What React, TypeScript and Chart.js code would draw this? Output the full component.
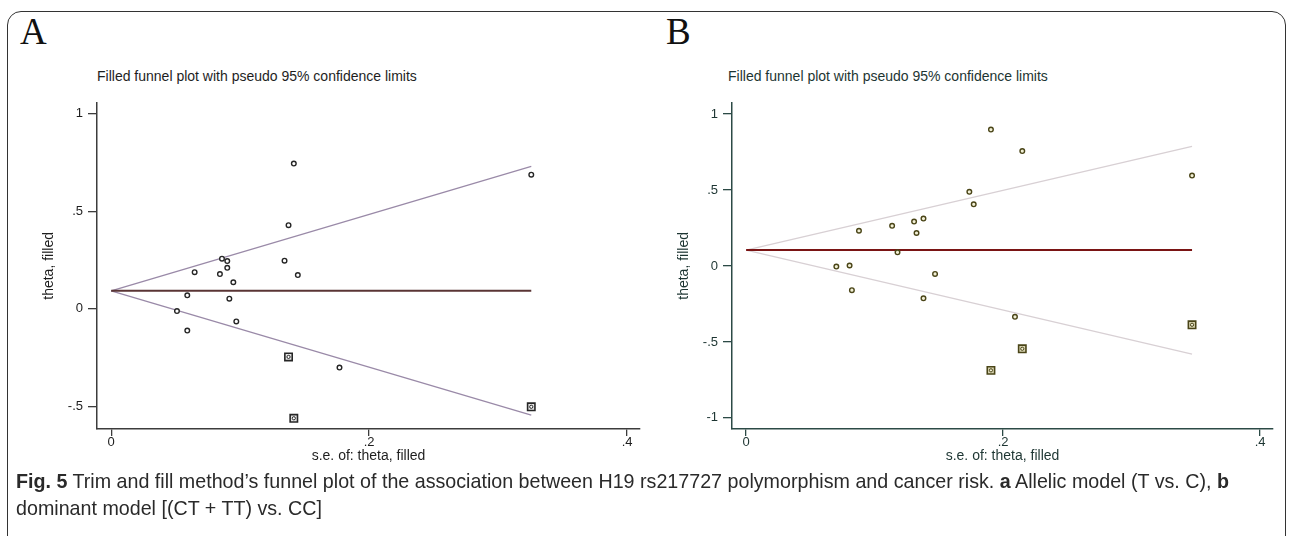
import React, { useEffect, useLayoutEffect, useRef } from 'react';
import { Chart, registerables } from 'chart.js';

Chart.register(...registerables);

// ---------- Panel A (allelic model) ----------
const seA = [0.1416, 0.1375, 0.0859, 0.090, 0.090, 0.0647, 0.0843, 0.1344, 0.1447, 0.0947, 0.059, 0.0916, 0.051, 0.059, 0.097, 0.177, 0.3257];
const thetaA = [0.745, 0.429, 0.257, 0.245, 0.210, 0.188, 0.178, 0.247, 0.173, 0.136, 0.069, 0.052, -0.012, -0.112, -0.065, -0.302, 0.688];
const filledSeA = [0.1375, 0.1416, 0.3257];
const filledThetaA = [-0.247, -0.562, -0.503];
const funnelSeA = [0, 0.3257];
const centerA = [0.092, 0.092];
const upperA = [0.092, 0.731];
const lowerA = [0.092, -0.546];

// ---------- Panel B (dominant model) ----------
const seB = [0.1905, 0.2149, 0.1737, 0.1771, 0.138, 0.1307, 0.1136, 0.0878, 0.1326, 0.1178, 0.0702, 0.0805, 0.147, 0.0823, 0.138, 0.2092, 0.347];
const thetaB = [0.898, 0.756, 0.488, 0.406, 0.312, 0.292, 0.264, 0.232, 0.217, 0.090, -0.004, 0.003, -0.052, -0.159, -0.213, -0.335, 0.595];
const filledSeB = [0.2149, 0.1905, 0.347];
const filledThetaB = [-0.545, -0.687, -0.387];
const funnelSeB = [0, 0.347];
const centerB = [0.105, 0.105];
const upperB = [0.105, 0.787];
const lowerB = [0.105, -0.58];

// ---------- Ticks ----------
const xTicks = [0, 0.2, 0.4];
const xTickLabels = ['0', '.2', '.4'];
const yTicksA = [-0.5, 0, 0.5, 1];
const yTickLabelsA = ['-.5', '0', '.5', '1'];
const yTicksB = [-1, -0.5, 0, 0.5, 1];
const yTickLabelsB = ['-1', '-.5', '0', '.5', '1'];

const TITLE = 'Filled funnel plot with pseudo 95% confidence limits';
const FONT = "'Liberation Sans', Arial, sans-serif";

const pts = (xs: number[], ys: number[]) => xs.map((x, i) => ({ x, y: ys[i] }));

function makeConfig(p: any) {
  const lbl = (ticks: number[], labels: string[]) => (v: any) => {
    const i = ticks.findIndex((t) => Math.abs(t - Number(v)) < 1e-9);
    return i >= 0 ? labels[i] : '';
  };
  return {
    type: 'scatter',
    data: {
      datasets: [
        {
          data: pts(p.filledSe, p.filledTheta),
          pointStyle: 'circle',
          pointRadius: 1.6,
          borderWidth: 1,
          borderColor: p.markerColor,
          backgroundColor: p.markerFill,
        },
        {
          data: pts(p.filledSe, p.filledTheta),
          pointStyle: 'rect',
          pointRadius: 5.2,
          borderWidth: 1.6,
          borderColor: p.markerColor,
          backgroundColor: p.squareFill,
        },
        {
          data: pts(p.se, p.theta),
          pointStyle: 'circle',
          pointRadius: 2.3,
          borderWidth: 1.4,
          borderColor: p.markerColor,
          backgroundColor: p.markerFill,
        },
        {
          data: pts(p.funnelSe, p.center),
          showLine: true,
          pointRadius: 0,
          borderColor: p.centerColor,
          borderWidth: 2,
        },
        {
          data: pts(p.funnelSe, p.upper),
          showLine: true,
          pointRadius: 0,
          borderColor: p.limitColor,
          borderWidth: 1.3,
        },
        {
          data: pts(p.funnelSe, p.lower),
          showLine: true,
          pointRadius: 0,
          borderColor: p.limitColor,
          borderWidth: 1.3,
        },
      ],
    },
    options: {
      animation: false,
      responsive: false,
      events: [],
      layout: { padding: { top: p.padTop, right: p.padRight, left: 0, bottom: 0 } },
      plugins: { legend: { display: false }, tooltip: { enabled: false }, title: { display: false } },
      scales: {
        x: {
          type: 'linear',
          min: -0.011,
          max: 0.41,
          afterBuildTicks: (s: any) => {
            s.ticks = xTicks.map((v) => ({ value: v }));
          },
          afterFit: (s: any) => {
            s.height = p.xAxisHeight;
          },
          grid: { display: true, drawOnChartArea: false, drawTicks: true, tickLength: 7, color: p.axisColor, lineWidth: 1.3 },
          border: { display: true, color: p.axisColor, width: 1.5 },
          ticks: { padding: -1, color: p.textColor, font: { family: FONT, size: 13 }, maxRotation: 0, autoSkip: false, callback: lbl(xTicks, xTickLabels) },
          title: { display: true, text: 's.e. of: theta, filled', color: p.textColor, font: { family: FONT, size: 14 }, padding: { top: 0, bottom: 15 } },
        },
        y: {
          type: 'linear',
          min: p.yMin,
          max: p.yMax,
          afterBuildTicks: (s: any) => {
            s.ticks = p.yTicks.map((v: number) => ({ value: v }));
          },
          afterFit: (s: any) => {
            s.width = p.yAxisWidth;
          },
          grid: { display: true, drawOnChartArea: false, drawTicks: true, tickLength: 9, color: p.axisColor, lineWidth: 1.3 },
          border: { display: true, color: p.axisColor, width: 1.5 },
          ticks: { padding: 5, color: p.textColor, font: { family: FONT, size: 13 }, autoSkip: false, callback: lbl(p.yTicks, p.yTickLabels) },
          title: { display: true, text: 'theta, filled', color: p.textColor, font: { family: FONT, size: 14 }, padding: { top: p.yTitlePad, bottom: 0 } },
        },
      },
    },
  };
}

const panelA = {
  se: seA, theta: thetaA, filledSe: filledSeA, filledTheta: filledThetaA,
  funnelSe: funnelSeA, center: centerA, upper: upperA, lower: lowerA,
  yTicks: yTicksA, yTickLabels: yTickLabelsA, yMin: -0.617, yMax: 1.057,
  markerColor: '#262626', markerFill: '#ffffff', squareFill: '#e4e4e4',
  centerColor: '#5a3535', limitColor: '#9a8aa8', axisColor: '#3c3c3c', textColor: '#1e1e1e',
  padTop: 6, padRight: 20, xAxisHeight: 51, yAxisWidth: 67, yTitlePad: 10.5,
};

const panelB = {
  se: seB, theta: thetaB, filledSe: filledSeB, filledTheta: filledThetaB,
  funnelSe: funnelSeB, center: centerB, upper: upperB, lower: lowerB,
  yTicks: yTicksB, yTickLabels: yTickLabelsB, yMin: -1.073, yMax: 1.074,
  markerColor: '#4a4518', markerFill: '#f2f0d6', squareFill: '#d9d5b2',
  centerColor: '#7a1414', limitColor: '#d8d0d4', axisColor: '#2c4a46', textColor: '#1d3532',
  padTop: 6, padRight: 17, xAxisHeight: 51, yAxisWidth: 68, yTitlePad: 11.5,
};

export default function App() {
  const refA = useRef<HTMLCanvasElement>(null);
  const refB = useRef<HTMLCanvasElement>(null);
  const capRef = useRef<HTMLDivElement>(null);
  const line1Ref = useRef<HTMLSpanElement>(null);

  useEffect(() => {
    const a = new Chart(refA.current as any, makeConfig(panelA) as any);
    const b = new Chart(refB.current as any, makeConfig(panelB) as any);
    return () => {
      a.destroy();
      b.destroy();
    };
  }, []);

  useLayoutEffect(() => {
    const cap = capRef.current;
    const l1 = line1Ref.current;
    if (!cap || !l1) return;
    const base = 17;
    cap.style.fontSize = base + 'px';
    const w = l1.getBoundingClientRect().width;
    if (w > 0) cap.style.fontSize = (base * 1214) / w + 'px';
  }, []);

  return (
    <div style={{ position: 'absolute', left: 0, top: 0, width: 1290, height: 536, background: '#fff', overflow: 'hidden' }}>
      <div style={{ position: 'absolute', left: 7, top: 11, width: 1279, height: 540, border: '1.5px solid #333', borderRadius: 14, boxSizing: 'border-box' }} />
      <div style={{ position: 'absolute', left: 20, top: 14, fontFamily: "'Liberation Serif', 'Times New Roman', serif", fontSize: 37, lineHeight: '36px', color: '#111' }}>A</div>
      <div style={{ position: 'absolute', left: 666, top: 14, fontFamily: "'Liberation Serif', 'Times New Roman', serif", fontSize: 37, lineHeight: '36px', color: '#111' }}>B</div>
      <div style={{ position: 'absolute', left: 97, top: 68, fontFamily: FONT, fontSize: 14, lineHeight: '16px', color: '#1e1e1e', whiteSpace: 'nowrap' }}>{TITLE}</div>
      <div style={{ position: 'absolute', left: 728, top: 68, fontFamily: FONT, fontSize: 14, lineHeight: '16px', color: '#1d3532', whiteSpace: 'nowrap' }}>{TITLE}</div>
      <canvas ref={refA} width={630} height={390} style={{ position: 'absolute', left: 30, top: 90, width: 630, height: 390 }} />
      <canvas ref={refB} width={626} height={390} style={{ position: 'absolute', left: 664, top: 90, width: 626, height: 390 }} />
      <div ref={capRef} style={{ position: 'absolute', left: 16, top: 468, fontFamily: FONT, color: '#2a2a2a', lineHeight: '27px', whiteSpace: 'nowrap' }}>
        <div>
          <span ref={line1Ref}>
            <b>Fig. 5</b> Trim and fill method’s funnel plot of the association between H19 rs217727 polymorphism and cancer risk. <b>a</b> Allelic model (T vs. C), <b>b</b>
          </span>
        </div>
        <div>dominant model [(CT + TT) vs. CC]</div>
      </div>
    </div>
  );
}
